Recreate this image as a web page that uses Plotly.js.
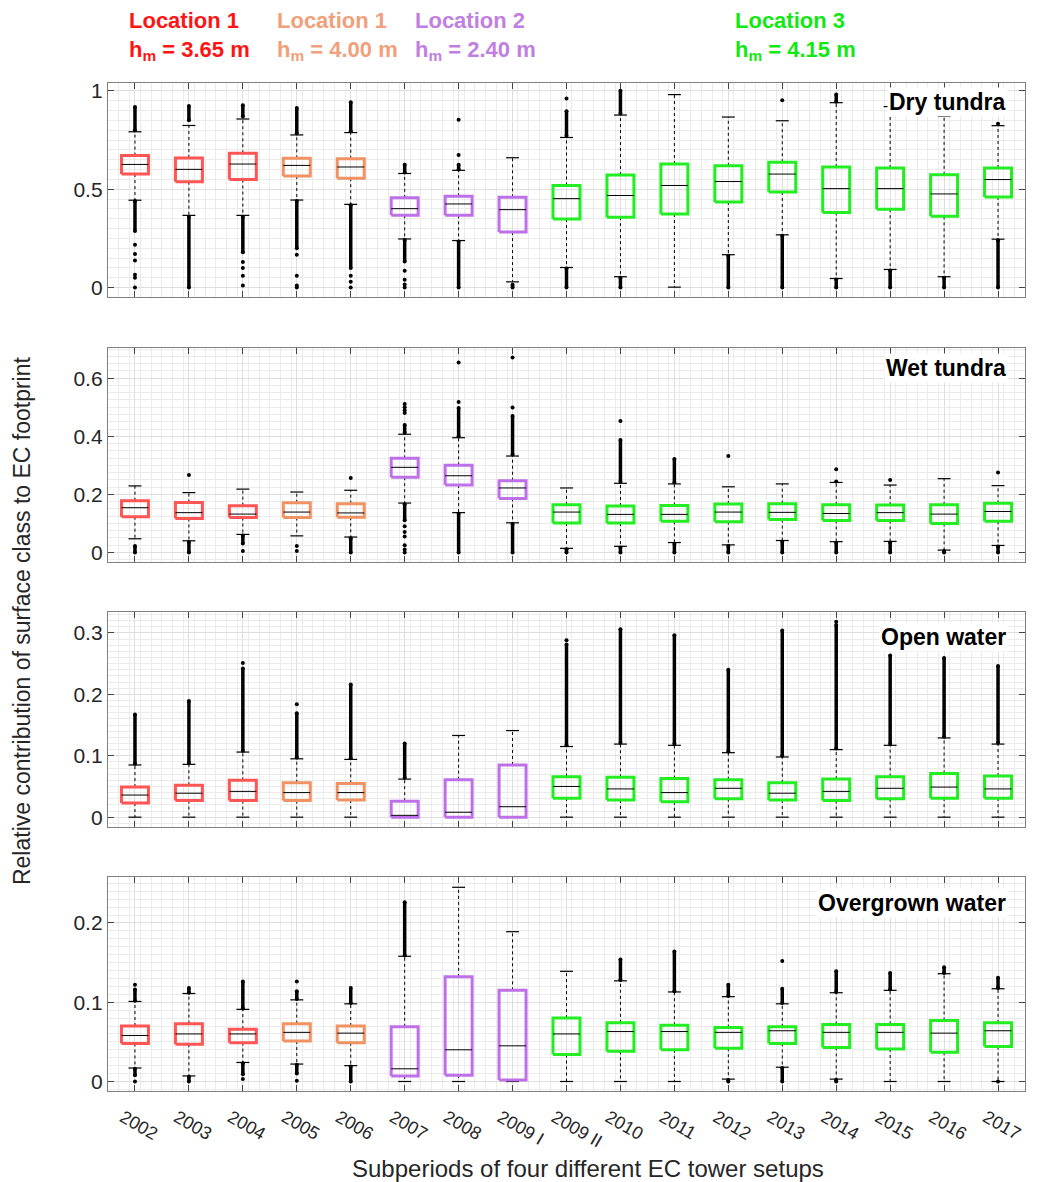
<!DOCTYPE html>
<html><head><meta charset="utf-8">
<script src="https://cdn.plot.ly/plotly-3.0.1.min.js"></script>
<style>html,body{margin:0;padding:0;background:#fff}#chart{width:1039px;height:1182px}</style>
</head><body><div id="chart"></div>
<script>
// ---------- categories ----------
const categories = ['2002','2003','2004','2005','2006','2007','2008','2009 I','2009 II','2010','2011','2012','2013','2014','2015','2016','2017'];
const setupGroup = [0,0,0,1,1,2,2,2,3,3,3,3,3,3,3,3,3];
const groupColors = ['#FF5555','#F09262','#BE70E8','#22EE22'];
const legendLines1 = ['Location 1','Location 1','Location 2','Location 3'];
const legendLines2 = ['h<sub>m</sub> = 3.65 m','h<sub>m</sub> = 4.00 m','h<sub>m</sub> = 2.40 m','h<sub>m</sub> = 4.15 m'];
const legendColors = ['#FF1414','#F0A07A','#BF80E2','#12E812'];
const panelNames = ['Dry tundra','Wet tundra','Open water','Overgrown water'];

// ---------- Dry tundra ----------
const dryQ1  = [0.577,0.538,0.549,0.567,0.556,0.367,0.367,0.282,0.348,0.358,0.374,0.435,0.486,0.382,0.398,0.362,0.461];
const dryMed = [0.626,0.601,0.628,0.621,0.613,0.401,0.425,0.396,0.452,0.468,0.519,0.539,0.577,0.503,0.503,0.476,0.549];
const dryQ3  = [0.671,0.659,0.683,0.657,0.655,0.456,0.464,0.459,0.519,0.572,0.628,0.619,0.637,0.613,0.608,0.573,0.608];
const dryLo  = [0.444,0.367,0.367,0.445,0.423,0.247,0.239,0.029,0.102,0.055,0.002,0.167,0.268,0.046,0.092,0.055,0.246];
const dryHi  = [0.792,0.824,0.857,0.776,0.788,0.580,0.596,0.660,0.763,0.877,0.981,0.867,0.848,0.940,0.920,0.870,0.823];
const dryOutHiFrom = [0.800,0.850,0.870,0.785,0.795,0.585,0.600,null,0.770,0.885,null,null,null,0.945,null,null,null];
const dryOutHiTo   = [0.918,0.923,0.927,0.913,0.942,0.625,0.625,null,0.896,1.000,null,null,null,0.981,null,null,null];
const dryOutLoFrom = [0.287,0.000,0.180,0.200,0.100,0.133,0.000,0.000,0.000,0.000,null,0.000,0.000,0.000,0.000,0.000,0.000];
const dryOutLoTo   = [0.440,0.360,0.360,0.440,0.418,0.242,0.234,0.014,0.097,0.050,null,0.162,0.263,0.041,0.087,0.050,0.241];
const dryPtIdx = [0,0,0,0,0,0,2,2,2,2,3,3,3,3,4,4,4,5,5,5,5,6,6,8,12,16];
const dryPtVal = [0.218,0.170,0.138,0.065,0.050,0.000,0.130,0.100,0.060,0.010,0.167,0.060,0.010,0.000,0.060,0.030,0.000,0.085,0.040,0.015,0.000,0.674,0.853,0.961,0.952,0.833];

// ---------- Wet tundra ----------
const wetQ1  = [0.123,0.117,0.120,0.120,0.121,0.259,0.232,0.186,0.101,0.101,0.107,0.106,0.113,0.110,0.110,0.100,0.107];
const wetMed = [0.154,0.137,0.132,0.139,0.136,0.293,0.264,0.222,0.139,0.131,0.131,0.139,0.138,0.134,0.137,0.132,0.141];
const wetQ3  = [0.178,0.172,0.161,0.171,0.168,0.324,0.300,0.247,0.164,0.160,0.162,0.167,0.168,0.164,0.163,0.164,0.169];
const wetLo  = [0.047,0.040,0.062,0.057,0.053,0.170,0.137,0.102,0.014,0.021,0.034,0.026,0.041,0.037,0.038,0.008,0.024];
const wetHi  = [0.229,0.206,0.218,0.208,0.214,0.407,0.395,0.332,0.222,0.238,0.236,0.226,0.236,0.241,0.232,0.254,0.230];
const wetOutHiFrom = [null,null,null,null,null,0.412,0.400,0.337,null,0.243,0.241,null,null,null,null,null,null];
const wetOutHiTo   = [null,null,null,null,null,0.439,0.497,0.470,null,0.387,0.322,null,null,null,null,null,null];
const wetOutLoFrom = [0.000,0.000,0.031,null,0.000,0.111,0.000,0.000,0.000,0.000,0.000,0.000,0.000,0.000,0.000,0.000,0.000];
const wetOutLoTo   = [0.022,0.036,0.058,null,0.049,0.166,0.133,0.098,0.011,0.017,0.030,0.022,0.037,0.033,0.034,0.005,0.020];
const wetPtIdx = [1,2,3,3,4,5,5,5,5,5,5,5,5,5,5,6,6,7,7,9,11,13,13,14,16];
const wetPtVal = [0.267,0.005,0.022,0.005,0.256,0.480,0.490,0.500,0.511,0.090,0.070,0.055,0.025,0.010,0.000,0.518,0.654,0.499,0.671,0.453,0.332,0.244,0.286,0.249,0.275];

// ---------- Open water ----------
const owQ1  = [0.023,0.027,0.027,0.027,0.028,0.000,0.000,0.000,0.031,0.028,0.025,0.030,0.028,0.027,0.030,0.031,0.031];
const owMed = [0.036,0.039,0.042,0.040,0.040,0.003,0.008,0.017,0.050,0.046,0.040,0.047,0.039,0.042,0.047,0.049,0.046];
const owQ3  = [0.049,0.052,0.060,0.056,0.055,0.026,0.061,0.085,0.066,0.065,0.063,0.061,0.056,0.062,0.066,0.071,0.067];
const owLo  = [0,0,0,0,0,0,0,0,0,0,0,0,0,0,0,0,0];
const owHi  = [0.085,0.086,0.106,0.095,0.094,0.062,0.133,0.141,0.115,0.119,0.117,0.105,0.098,0.110,0.117,0.129,0.119];
const owOutHiFrom = [0.087,0.088,0.108,0.097,0.096,0.064,null,null,0.117,0.121,0.119,0.107,0.100,0.112,0.119,0.131,0.121];
const owOutHiTo   = [0.167,0.189,0.242,0.169,0.216,0.120,null,null,0.281,0.306,0.296,0.240,0.304,0.313,0.263,0.259,0.246];
const owOutLoFrom = [null,null,null,null,null,null,null,null,null,null,null,null,null,null,null,null,null];
const owOutLoTo   = [null,null,null,null,null,null,null,null,null,null,null,null,null,null,null,null,null];
const owPtIdx = [2,3,8,13];
const owPtVal = [0.251,0.184,0.288,0.318];

// ---------- Overgrown water ----------
const ogQ1  = [0.048,0.047,0.049,0.051,0.049,0.007,0.008,0.002,0.034,0.038,0.040,0.042,0.048,0.043,0.041,0.037,0.044];
const ogMed = [0.058,0.060,0.060,0.062,0.061,0.016,0.040,0.045,0.060,0.063,0.063,0.062,0.064,0.062,0.062,0.061,0.064];
const ogQ3  = [0.070,0.073,0.066,0.073,0.070,0.069,0.132,0.115,0.080,0.074,0.071,0.068,0.069,0.072,0.072,0.077,0.074];
const ogLo  = [0.017,0.007,0.024,0.022,0.020,0,0,0,0,0,0,0.003,0.018,0.003,0,0,0];
const ogHi  = [0.101,0.111,0.091,0.103,0.098,0.158,0.245,0.189,0.139,0.127,0.113,0.107,0.098,0.112,0.115,0.136,0.117];
const ogOutHiFrom = [0.102,0.112,0.092,0.104,0.099,0.159,null,null,null,0.128,0.114,0.108,0.099,0.113,0.116,0.137,0.118];
const ogOutHiTo   = [0.116,0.118,0.126,0.114,0.118,0.226,null,null,null,0.154,0.164,0.122,0.117,0.139,0.137,0.144,0.131];
const ogOutLoFrom = [0.008,0.000,0.009,0.010,0.000,null,null,null,null,null,null,0.000,0.000,0.000,null,null,null];
const ogOutLoTo   = [0.016,0.006,0.023,0.021,0.019,null,null,null,null,null,null,0.002,0.017,0.002,null,null,null];
const ogPtIdx = [0,0,2,3,3,12,16];
const ogPtVal = [0.122,0.000,0.003,0.126,0.001,0.152,0.000];

// ---------- axes setup ----------
const yRanges = [[-0.048,1.04],[-0.033,0.704],[-0.016,0.334],[-0.012,0.258]];
const yTicks = [[0,0.5,1],[0,0.2,0.4,0.6],[0,0.1,0.2,0.3],[0,0.1,0.2]];
const yMinor = [0.05,0.025,0.01,0.01];

const panels = [
  {q1:dryQ1,med:dryMed,q3:dryQ3,lo:dryLo,hi:dryHi,ohf:dryOutHiFrom,oht:dryOutHiTo,olf:dryOutLoFrom,olt:dryOutLoTo,pi:dryPtIdx,pv:dryPtVal},
  {q1:wetQ1,med:wetMed,q3:wetQ3,lo:wetLo,hi:wetHi,ohf:wetOutHiFrom,oht:wetOutHiTo,olf:wetOutLoFrom,olt:wetOutLoTo,pi:wetPtIdx,pv:wetPtVal},
  {q1:owQ1,med:owMed,q3:owQ3,lo:owLo,hi:owHi,ohf:owOutHiFrom,oht:owOutHiTo,olf:owOutLoFrom,olt:owOutLoTo,pi:owPtIdx,pv:owPtVal},
  {q1:ogQ1,med:ogMed,q3:ogQ3,lo:ogLo,hi:ogHi,ohf:ogOutHiFrom,oht:ogOutHiTo,olf:ogOutLoFrom,olt:ogOutLoTo,pi:ogPtIdx,pv:ogPtVal}
];

const BOXW = 0.25, CAPW = 0.12;
const traces = [];
panels.forEach((p, k) => {
  const xa = k === 0 ? 'x' : 'x' + (k + 1);
  const ya = k === 0 ? 'y' : 'y' + (k + 1);
  const base = {xaxis: xa, yaxis: ya, hoverinfo: 'skip', showlegend: false, type: 'scatter'};
  const wx = [], wy = [];
  const cx = [], cy = [];
  categories.forEach((c, i) => {
    if (p.hi[i] > p.q3[i]) { wx.push(i, i, null); wy.push(p.q3[i], p.hi[i], null); }
    if (p.lo[i] < p.q1[i]) { wx.push(i, i, null); wy.push(p.q1[i], p.lo[i], null); }
    cx.push(i - CAPW, i + CAPW, null, i - CAPW, i + CAPW, null);
    cy.push(p.hi[i], p.hi[i], null, p.lo[i], p.lo[i], null);
  });
  traces.push(Object.assign({}, base, {x: wx, y: wy, mode: 'lines', line: {color: '#000', width: 1, dash: '3px,3px'}}));
  traces.push(Object.assign({}, base, {x: cx, y: cy, mode: 'lines', line: {color: '#000', width: 1.2}}));
  const ox = [], oy = [];
  categories.forEach((c, i) => {
    if (p.ohf[i] !== null) { ox.push(i, i, null); oy.push(p.ohf[i], p.oht[i], null); }
    if (p.olf[i] !== null) { ox.push(i, i, null); oy.push(p.olf[i], p.olt[i], null); }
  });
  traces.push(Object.assign({}, base, {x: ox, y: oy, mode: 'lines+markers', line: {color: '#000', width: 3.5}, marker: {color: '#000', size: 4}}));
  traces.push(Object.assign({}, base, {x: p.pi, y: p.pv, mode: 'markers', marker: {color: '#000', size: 4}}));
  groupColors.forEach((col, g) => {
    const bx = [], by = [];
    categories.forEach((c, i) => {
      if (setupGroup[i] !== g) return;
      bx.push(i - BOXW, i + BOXW, i + BOXW, i - BOXW, i - BOXW, null);
      by.push(p.q1[i], p.q1[i], p.q3[i], p.q3[i], p.q1[i], null);
    });
    traces.push(Object.assign({}, base, {x: bx, y: by, mode: 'lines', line: {color: col, width: 3}}));
  });
  const mx = [], my = [];
  categories.forEach((c, i) => { mx.push(i - BOXW, i + BOXW, null); my.push(p.med[i], p.med[i], null); });
  traces.push(Object.assign({}, base, {x: mx, y: my, mode: 'lines', line: {color: '#000', width: 1}}));
});

const FONT = 'Liberation Sans, Arial, Helvetica, sans-serif';
const domains = [[0.7877, 1], [0.5248, 0.7371], [0.2619, 0.4752], [0, 0.2123]];
const layout = {
  width: 1039, height: 1182,
  margin: {l: 108, r: 14, t: 83, b: 91},
  paper_bgcolor: '#fff', plot_bgcolor: '#fff',
  hovermode: false, showlegend: false,
  font: {family: FONT, color: '#262626'},
  annotations: []
};
panels.forEach((p, k) => {
  const xn = k === 0 ? 'xaxis' : 'xaxis' + (k + 1);
  const yn = k === 0 ? 'yaxis' : 'yaxis' + (k + 1);
  const ya = k === 0 ? 'y' : 'y' + (k + 1);
  layout[xn] = {
    anchor: ya, domain: [0, 1], range: [-0.5, 16.5], matches: k === 0 ? undefined : 'x',
    tickmode: 'array', tickvals: categories.map((c, i) => i), ticktext: categories,
    showticklabels: k === 3, tickangle: 30, tickfont: {size: 18, color: '#262626', family: FONT},
    ticklabelshift: -12, ticklabelstandoff: 8,
    ticks: 'inside', ticklen: 6, tickcolor: '#444', tickwidth: 1,
    showline: true, linecolor: '#808080', linewidth: 1.2, mirror: 'ticks',
    showgrid: true, gridcolor: '#dedede', gridwidth: 1, zeroline: false,
    minor: {tickmode: 'linear', tick0: -0.5, dtick: 0.2, showgrid: true, gridcolor: '#ebebeb', gridwidth: 1, ticks: ''}
  };
  layout[yn] = {
    anchor: k === 0 ? 'x' : 'x' + (k + 1), domain: domains[k], range: yRanges[k],
    tickmode: 'array', tickvals: yTicks[k], ticktext: yTicks[k].map(String),
    tickfont: {size: 21, color: '#262626', family: FONT},
    ticks: 'inside', ticklen: 6, tickcolor: '#444', tickwidth: 1,
    showline: true, linecolor: '#808080', linewidth: 1.2, mirror: 'ticks',
    showgrid: true, gridcolor: '#dedede', gridwidth: 1, zeroline: false,
    minor: {tickmode: 'linear', tick0: 0, dtick: yMinor[k], showgrid: true, gridcolor: '#ebebeb', gridwidth: 1, ticks: ''}
  };
  const yPos = [0.911, 0.907, 0.884, 0.879][k];
  layout.annotations.push({
    text: '<b>' + panelNames[k] + '</b>', xref: 'paper', yref: ya + ' domain',
    x: 0.981, y: yPos, xanchor: 'right', yanchor: 'middle', showarrow: false,
    bgcolor: '#fff', borderpad: 1,
    font: {size: 23, color: '#000', family: FONT}
  });
});

// X axis title
layout.annotations.push({
  text: 'Subperiods of four different EC tower setups', xref: 'paper', yref: 'paper',
  x: 0.523, y: -0.0764, xanchor: 'center', yanchor: 'middle', showarrow: false,
  font: {size: 24, color: '#262626', family: FONT}
});
// Y axis title
layout.annotations.push({
  text: 'Relative contribution of surface class to EC footprint', xref: 'paper', yref: 'paper',
  x: -0.094, y: 0.467, xanchor: 'center', yanchor: 'middle', textangle: -90, showarrow: false,
  font: {size: 23, color: '#262626', family: FONT}
});
// Top location labels
const legendX = [0.0207, 0.1821, 0.3326, 0.6816];
legendLines1.forEach((t, g) => {
  layout.annotations.push({
    text: '<b>' + t + '<br>' + legendLines2[g] + '</b>', xref: 'paper', yref: 'paper',
    x: legendX[g], y: 1.047, xanchor: 'left', yanchor: 'middle', align: 'left', showarrow: false,
    font: {size: 22, color: legendColors[g], family: FONT}
  });
});

Plotly.newPlot('chart', traces, layout, {displayModeBar: false, staticPlot: true});
</script>
</body></html>
